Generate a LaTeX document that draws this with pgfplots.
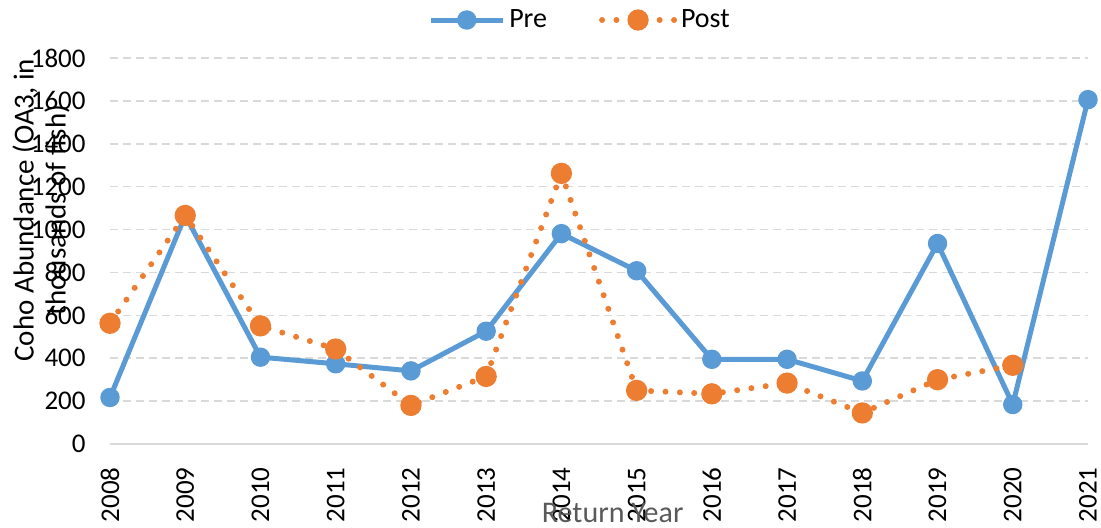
\documentclass[border=0pt]{standalone}
\usepackage{pgfplots}
\pgfplotsset{compat=1.18}
\usepackage{fontspec}
\setmainfont{Carlito}
\definecolor{preblue}{HTML}{5B9BD5}
\definecolor{postorange}{HTML}{ED7D31}
\definecolor{gridgray}{HTML}{D9D9D9}
\definecolor{labelgray}{HTML}{595959}
\begin{document}
\begin{tikzpicture}
\path[use as bounding box] (-55pt,-41.5pt) rectangle (495.5pt,222pt);
\begin{axis}[
  at={(0,0)}, anchor=south west,
  scale only axis, width=489pt, height=193pt,
  xmin=0, xmax=13, ymin=0, ymax=1800,
  clip=false,
  xtick={0,...,13},
  xticklabels={2008,2009,2010,2011,2012,2013,2014,2015,2016,2017,2018,2019,2020,2021},
  ytick={0,200,...,1800},
  major tick length=0pt,
  axis line style={draw=none},
  ymajorgrids,
  grid style={draw=gridgray, line width=0.8pt, dash pattern=on 4pt off 2.5pt},
  every tick label/.append style={font=\fontsize{13.5}{15}\selectfont, text=black},
  /pgf/number format/assume math mode=true,
  /pgf/number format/1000 sep={},
  yticklabel style={anchor=east, inner sep=0pt},
  yticklabel shift=12pt,
  xticklabel style={rotate=90, anchor=east, inner sep=0pt},
  xticklabel shift=11.5pt,
  ylabel={\fontsize{14.5}{16}\selectfont Coho Abundance (OA3, in\\[0pt]\fontsize{14.5}{16}\selectfont thousands of fish)},
  ylabel style={at={(rel axis cs:-0.0706,0.606)}, anchor=center, align=center, font=\fontsize{14.5}{16}\selectfont},
  legend columns=2,
  legend style={at={(rel axis cs:0.4816,1)}, anchor=center, yshift=19pt, draw=none, fill=none,
    font=\fontsize{14}{15}\selectfont, inner sep=0pt,
    /tikz/every even column/.append style={column sep=24pt}},
  legend cell align=left,
  legend image code/.code={\draw[mark repeat=2, mark phase=2] plot coordinates {(0pt,0pt) (18pt,0pt) (36pt,0pt)};},
]
\draw[gridgray, line width=0.9pt] (rel axis cs:0,0) -- (rel axis cs:1,0);
\addplot[color=preblue, line width=2.5pt, line join=round, mark=*, mark size=3.6pt, mark options={solid, draw=none, fill=preblue}]
  coordinates {(0,217) (1,1066) (2,405) (3,374) (4,341) (5,526) (6,981) (7,808) (8,395) (9,395) (10,294) (11,935) (12,184) (13,1606)};
\addlegendentry{Pre}
\addplot[color=postorange, line width=3pt, line cap=round, dash pattern=on 0pt off 7.2pt, mark=*, mark size=3.8pt, mark options={solid, draw=none, fill=postorange}]
  coordinates {(0,563) (1,1066) (2,551) (3,443) (4,180) (5,315) (6,1262) (7,250) (8,234) (9,284) (10,145) (11,300) (12,367)};
\addlegendentry{Post}
\node[font=\fontsize{15}{16}\selectfont, text=labelgray, anchor=center] at (rel axis cs:0.514,-0.179) {Return Year};
\end{axis}
\end{tikzpicture}
\end{document}
